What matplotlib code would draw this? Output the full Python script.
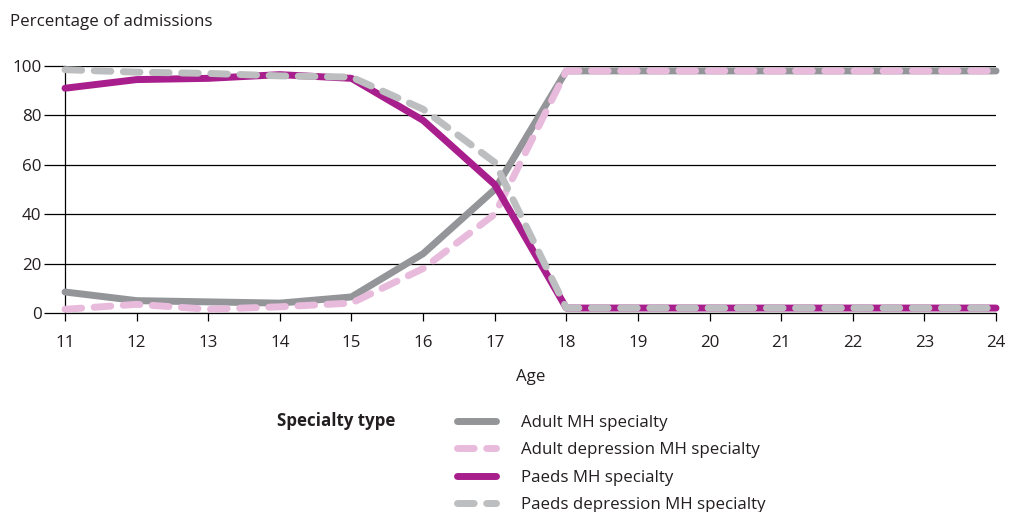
import matplotlib.pyplot as plt
from matplotlib.lines import Line2D

plt.rcParams['font.family'] = ['Open Sans', 'DejaVu Sans']

ages = [11, 12, 13, 14, 15, 16, 17, 18, 19, 20, 21, 22, 23, 24]
adult_mh = [8.5, 5, 4.5, 4, 6.5, 24, 50, 98, 98, 98, 98, 98, 98, 98]
adult_dep = [1.5, 3.5, 1.5, 2.5, 4, 18, 40, 98, 98, 98, 98, 98, 98, 98]
paeds_mh = [91, 94.5, 95, 96.5, 95, 78, 52, 2, 2, 2, 2, 2, 2, 2]
paeds_dep = [98.5, 97.5, 97, 96, 95.5, 82.5, 61, 2, 2, 2, 2, 2, 2, 2]

labels = ['Adult MH specialty', 'Adult depression MH specialty',
          'Paeds MH specialty', 'Paeds depression MH specialty']
colors = ['#939598', '#e8bbdc', '#a81e8c', '#bcbec0']
dashed = [False, True, False, True]
series = [adult_mh, adult_dep, paeds_mh, paeds_dep]

text_color = '#231f20'
fs = 12.2

fig = plt.figure(figsize=(10.11, 5.12), dpi=100)
ax = fig.add_axes([0.0643, 0.3887, 0.9209, 0.4824])

handles = []
for vals, c, d, lab in zip(series, colors, dashed, labels):
    ls = (0, (2.4, 1.8)) if d else '-'
    ax.plot(ages, vals, color=c, lw=5, ls=ls, solid_capstyle='round',
            dash_capstyle='round', solid_joinstyle='round', clip_on=False, zorder=3)
    handles.append(Line2D([0], [0], color=c, lw=5, ls=ls, solid_capstyle='round',
                          dash_capstyle='round'))

ax.set_xlim(11, 24)
ax.set_ylim(0, 100)
ax.set_xticks(ages)
ax.set_yticks([0, 20, 40, 60, 80, 100])
ax.grid(axis='y', color='black', lw=0.9, zorder=0)
for s in ['top', 'right']:
    ax.spines[s].set_visible(False)
for s in ['left', 'bottom']:
    ax.spines[s].set_color('black')
    ax.spines[s].set_linewidth(0.9)
ax.tick_params(axis='y', length=15, width=0.9, color='black', labelsize=fs,
               labelcolor=text_color, pad=2)
ax.tick_params(axis='x', length=6, width=0.9, color='black', labelsize=fs,
               labelcolor=text_color, pad=10)
ax.set_xlabel('Age', fontsize=fs, color=text_color, labelpad=13)

fig.text(0.010, 0.957, 'Percentage of admissions', fontsize=fs, color=text_color,
         va='center', ha='left')
fig.text(0.274, 0.177, 'Specialty type', fontsize=fs, fontweight='bold',
         color=text_color, va='center', ha='left')

leg = fig.legend(handles, labels, loc='upper left', bbox_to_anchor=(0.452, 0.189),
                 frameon=False, fontsize=fs, handlelength=2.3, handletextpad=1.45,
                 labelspacing=0.66, borderaxespad=0, borderpad=0)
for t in leg.get_texts():
    t.set_color(text_color)

fig.savefig('out.png', dpi=100)
